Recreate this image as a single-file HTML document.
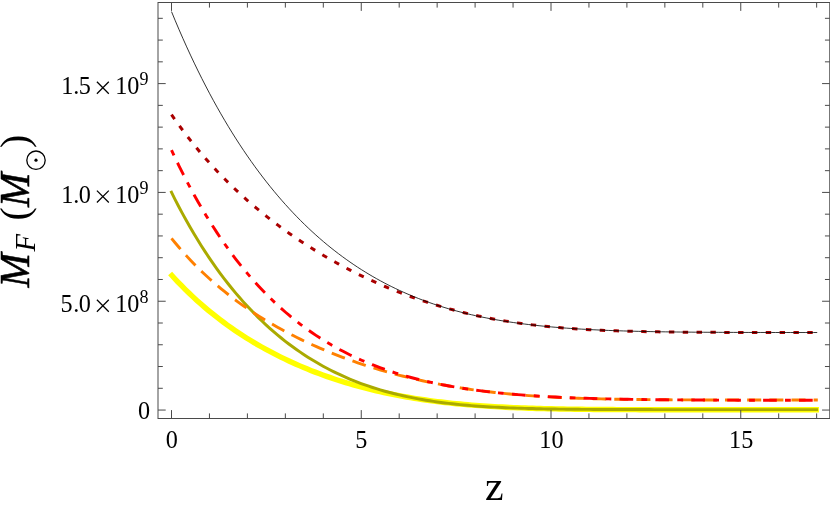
<!DOCTYPE html>
<html><head><meta charset="utf-8"><title>plot</title>
<style>
html,body{margin:0;padding:0;background:#fff;}
body{width:830px;height:509px;overflow:hidden;font-family:"Liberation Serif",serif;}
svg{display:block;will-change:transform;}
text{font-family:"Liberation Serif",serif;fill:#000;}
</style></head><body>
<svg width="830" height="509" viewBox="0 0 830 509">
<rect width="830" height="509" fill="#fff"/>
<g fill="none" stroke-linecap="butt" stroke-linejoin="round">
<path d="M170.13,273.50 L173.95,277.70 L177.77,281.78 L181.58,285.73 L185.40,289.56 L189.22,293.28 L193.03,296.89 L196.85,300.39 L200.67,303.79 L204.48,307.10 L208.30,310.31 L212.11,313.43 L215.93,316.46 L219.75,319.40 L223.56,322.27 L227.38,325.06 L231.20,327.77 L235.01,330.41 L238.83,332.98 L242.65,335.47 L246.46,337.91 L250.28,340.27 L254.10,342.58 L257.91,344.82 L261.73,347.00 L265.54,349.13 L269.36,351.20 L273.18,353.21 L276.99,355.17 L280.81,357.08 L284.63,358.94 L288.44,360.75 L292.26,362.51 L296.08,364.23 L299.89,365.89 L303.71,367.51 L307.53,369.09 L311.34,370.63 L315.16,372.12 L318.97,373.57 L322.79,374.97 L326.61,376.34 L330.42,377.67 L334.24,378.96 L338.06,380.21 L341.87,381.43 L345.69,382.61 L349.51,383.75 L353.32,384.86 L357.14,385.93 L360.96,386.97 L364.77,387.98 L368.59,388.95 L372.40,389.89 L376.22,390.80 L380.04,391.68 L383.85,392.53 L387.67,393.35 L391.49,394.14 L395.30,394.90 L399.12,395.63 L402.94,396.34 L406.75,397.02 L410.57,397.67 L414.39,398.30 L418.20,398.90 L422.02,399.48 L425.83,400.04 L429.65,400.57 L433.47,401.08 L437.28,401.57 L441.10,402.03 L444.92,402.48 L448.73,402.90 L452.55,403.31 L456.37,403.70 L460.18,404.06 L464.00,404.41 L467.82,404.75 L471.63,405.07 L475.45,405.37 L479.26,405.65 L483.08,405.92 L486.90,406.18 L490.71,406.42 L494.53,406.65 L498.35,406.86 L502.16,407.07 L505.98,407.26 L509.80,407.44 L513.61,407.61 L517.43,407.77 L521.25,407.92 L525.06,408.06 L528.88,408.19 L532.69,408.31 L536.51,408.43 L540.33,408.53 L544.14,408.63 L547.96,408.73 L551.78,408.81 L555.59,408.89 L559.41,408.97 L563.23,409.04 L567.04,409.10 L570.86,409.16 L574.68,409.22 L578.49,409.27 L582.31,409.31 L586.12,409.36 L589.94,409.39 L593.76,409.43 L597.57,409.46 L601.39,409.49 L605.21,409.52 L609.02,409.55 L612.84,409.57 L616.66,409.59 L620.47,409.61 L624.29,409.63 L628.11,409.64 L631.92,409.66 L635.74,409.67 L639.55,409.68 L643.37,409.69 L647.19,409.70 L651.00,409.71 L654.82,409.72 L658.64,409.73 L662.45,409.73 L666.27,409.74 L670.09,409.74 L673.90,409.75 L677.72,409.75 L681.54,409.75 L685.35,409.76 L689.17,409.76 L692.98,409.76 L696.80,409.76 L700.62,409.77 L704.43,409.77 L708.25,409.77 L712.07,409.77 L715.88,409.77 L719.70,409.77 L723.52,409.77 L727.33,409.77 L731.15,409.78 L734.97,409.78 L738.78,409.78 L742.60,409.78 L746.41,409.78 L750.23,409.78 L754.05,409.78 L757.86,409.78 L761.68,409.78 L765.50,409.78 L769.31,409.78 L773.13,409.78 L776.95,409.78 L780.76,409.78 L784.58,409.78 L788.40,409.78 L792.21,409.78 L796.03,409.78 L799.84,409.78 L803.66,409.78 L807.48,409.78 L811.29,409.78 L815.11,409.78 L818.93,409.78" stroke="#ffff00" stroke-width="5.4"/>
<path d="M170.82,190.92 L174.62,198.56 L178.43,205.96 L182.24,213.12 L186.04,220.06 L189.85,226.78 L193.66,233.29 L197.46,239.59 L201.27,245.70 L205.08,251.62 L208.89,257.35 L212.69,262.91 L216.50,268.29 L220.31,273.51 L224.11,278.57 L227.92,283.47 L231.73,288.22 L235.53,292.83 L239.34,297.29 L243.15,301.61 L246.95,305.80 L250.76,309.86 L254.57,313.78 L258.37,317.59 L262.18,321.28 L265.99,324.84 L269.79,328.30 L273.60,331.64 L277.41,334.88 L281.22,338.00 L285.02,341.03 L288.83,343.96 L292.64,346.79 L296.44,349.52 L300.25,352.16 L304.06,354.71 L307.86,357.17 L311.67,359.55 L315.48,361.84 L319.28,364.05 L323.09,366.18 L326.90,368.23 L330.70,370.21 L334.51,372.11 L338.32,373.94 L342.12,375.71 L345.93,377.40 L349.74,379.03 L353.54,380.59 L357.35,382.09 L361.16,383.52 L364.97,384.90 L368.77,386.22 L372.58,387.49 L376.39,388.70 L380.19,389.86 L384.00,390.96 L387.81,392.02 L391.61,393.03 L395.42,393.99 L399.23,394.91 L403.03,395.78 L406.84,396.61 L410.65,397.40 L414.45,398.16 L418.26,398.87 L422.07,399.55 L425.87,400.19 L429.68,400.80 L433.49,401.38 L437.30,401.92 L441.10,402.44 L444.91,402.92 L448.72,403.38 L452.52,403.81 L456.33,404.22 L460.14,404.60 L463.94,404.96 L467.75,405.30 L471.56,405.62 L475.36,405.92 L479.17,406.20 L482.98,406.46 L486.78,406.70 L490.59,406.93 L494.40,407.14 L498.20,407.34 L502.01,407.53 L505.82,407.70 L509.62,407.86 L513.43,408.00 L517.24,408.14 L521.05,408.27 L524.85,408.39 L528.66,408.49 L532.47,408.59 L536.27,408.69 L540.08,408.77 L543.89,408.85 L547.69,408.92 L551.50,408.99 L555.31,409.05 L559.11,409.10 L562.92,409.15 L566.73,409.20 L570.53,409.24 L574.34,409.28 L578.15,409.32 L581.95,409.35 L585.76,409.38 L589.57,409.40 L593.38,409.43 L597.18,409.45 L600.99,409.47 L604.80,409.48 L608.60,409.50 L612.41,409.51 L616.22,409.53 L620.02,409.54 L623.83,409.55 L627.64,409.56 L631.44,409.57 L635.25,409.57 L639.06,409.58 L642.86,409.58 L646.67,409.59 L650.48,409.59 L654.28,409.60 L658.09,409.60 L661.90,409.60 L665.70,409.61 L669.51,409.61 L673.32,409.61 L677.13,409.61 L680.93,409.62 L684.74,409.62 L688.55,409.62 L692.35,409.62 L696.16,409.62 L699.97,409.62 L703.77,409.62 L707.58,409.62 L711.39,409.62 L715.19,409.62 L719.00,409.62 L722.81,409.62 L726.61,409.62 L730.42,409.62 L734.23,409.62 L738.03,409.62 L741.84,409.63 L745.65,409.63 L749.46,409.63 L753.26,409.63 L757.07,409.63 L760.88,409.63 L764.68,409.63 L768.49,409.63 L772.30,409.63 L776.10,409.63 L779.91,409.63 L783.72,409.63 L787.52,409.63 L791.33,409.63 L795.14,409.63 L798.94,409.63 L802.75,409.63 L806.56,409.63 L810.36,409.63 L814.17,409.63 L817.98,409.63" stroke="#aaaa00" stroke-width="2.95"/>
<path d="M171.50,238.36 L175.30,243.02 L179.10,247.53 L182.91,251.89 L186.71,256.11 L190.51,260.19 L194.31,264.14 L198.11,267.97 L201.91,271.68 L205.72,275.28 L209.52,278.77 L213.32,282.15 L217.12,285.44 L220.92,288.63 L224.72,291.74 L228.53,294.75 L232.33,297.69 L236.13,300.54 L239.93,303.32 L243.73,306.02 L247.53,308.66 L251.34,311.22 L255.14,313.72 L258.94,316.16 L262.74,318.53 L266.54,320.85 L270.34,323.11 L274.15,325.32 L277.95,327.47 L281.75,329.57 L285.55,331.62 L289.35,333.63 L293.15,335.58 L296.96,337.49 L300.76,339.36 L304.56,341.19 L308.36,342.97 L312.16,344.71 L315.96,346.41 L319.77,348.08 L323.57,349.70 L327.37,351.29 L331.17,352.84 L334.97,354.36 L338.77,355.84 L342.58,357.29 L346.38,358.71 L350.18,360.09 L353.98,361.44 L357.78,362.76 L361.58,364.05 L365.39,365.30 L369.19,366.53 L372.99,367.72 L376.79,368.89 L380.59,370.03 L384.40,371.14 L388.20,372.22 L392.00,373.27 L395.80,374.30 L399.60,375.30 L403.40,376.27 L407.21,377.21 L411.01,378.13 L414.81,379.03 L418.61,379.90 L422.41,380.74 L426.21,381.56 L430.02,382.35 L433.82,383.12 L437.62,383.87 L441.42,384.59 L445.22,385.29 L449.02,385.97 L452.83,386.62 L456.63,387.25 L460.43,387.86 L464.23,388.45 L468.03,389.02 L471.83,389.57 L475.64,390.10 L479.44,390.60 L483.24,391.09 L487.04,391.56 L490.84,392.01 L494.64,392.45 L498.45,392.86 L502.25,393.26 L506.05,393.64 L509.85,394.00 L513.65,394.35 L517.45,394.68 L521.26,395.00 L525.06,395.30 L528.86,395.59 L532.66,395.86 L536.46,396.12 L540.26,396.37 L544.07,396.61 L547.87,396.83 L551.67,397.04 L555.47,397.24 L559.27,397.43 L563.07,397.61 L566.88,397.77 L570.68,397.93 L574.48,398.08 L578.28,398.22 L582.08,398.35 L585.88,398.48 L589.69,398.59 L593.49,398.70 L597.29,398.80 L601.09,398.90 L604.89,398.99 L608.70,399.07 L612.50,399.15 L616.30,399.22 L620.10,399.29 L623.90,399.35 L627.70,399.41 L631.51,399.46 L635.31,399.51 L639.11,399.55 L642.91,399.59 L646.71,399.63 L650.51,399.67 L654.32,399.70 L658.12,399.73 L661.92,399.76 L665.72,399.78 L669.52,399.81 L673.32,399.83 L677.13,399.85 L680.93,399.86 L684.73,399.88 L688.53,399.89 L692.33,399.91 L696.13,399.92 L699.94,399.93 L703.74,399.94 L707.54,399.95 L711.34,399.95 L715.14,399.96 L718.94,399.97 L722.75,399.97 L726.55,399.98 L730.35,399.98 L734.15,399.99 L737.95,399.99 L741.75,399.99 L745.56,400.00 L749.36,400.00 L753.16,400.00 L756.96,400.00 L760.76,400.01 L764.56,400.01 L768.37,400.01 L772.17,400.01 L775.97,400.01 L779.77,400.01 L783.57,400.01 L787.37,400.01 L791.18,400.01 L794.98,400.01 L798.78,400.01 L802.58,400.01 L806.38,400.02 L810.19,400.02 L813.99,400.02 L817.79,400.02" stroke="#ff8000" stroke-width="2.9" stroke-dasharray="14.05 8.1"/>
<path d="M171.50,150.11 L175.30,158.20 L179.10,166.04 L182.91,173.66 L186.71,181.06 L190.51,188.24 L194.31,195.20 L198.11,201.97 L201.91,208.53 L205.72,214.90 L209.52,221.09 L213.32,227.09 L217.12,232.91 L220.92,238.56 L224.72,244.04 L228.53,249.36 L232.33,254.52 L236.13,259.52 L239.93,264.37 L243.73,269.08 L247.53,273.64 L251.34,278.07 L255.14,282.36 L258.94,286.52 L262.74,290.55 L266.54,294.45 L270.34,298.24 L274.15,301.91 L277.95,305.46 L281.75,308.90 L285.55,312.23 L289.35,315.46 L293.15,318.59 L296.96,321.62 L300.76,324.55 L304.56,327.38 L308.36,330.12 L312.16,332.78 L315.96,335.35 L319.77,337.83 L323.57,340.23 L327.37,342.55 L331.17,344.80 L334.97,346.97 L338.77,349.06 L342.58,351.09 L346.38,353.05 L350.18,354.94 L353.98,356.76 L357.78,358.52 L361.58,360.22 L365.39,361.86 L369.19,363.44 L372.99,364.97 L376.79,366.44 L380.59,367.86 L384.40,369.23 L388.20,370.55 L392.00,371.82 L395.80,373.04 L399.60,374.22 L403.40,375.35 L407.21,376.44 L411.01,377.49 L414.81,378.50 L418.61,379.47 L422.41,380.41 L426.21,381.30 L430.02,382.17 L433.82,382.99 L437.62,383.79 L441.42,384.55 L445.22,385.29 L449.02,385.99 L452.83,386.67 L456.63,387.31 L460.43,387.93 L464.23,388.53 L468.03,389.10 L471.83,389.64 L475.64,390.16 L479.44,390.66 L483.24,391.14 L487.04,391.60 L490.84,392.04 L494.64,392.46 L498.45,392.86 L502.25,393.24 L506.05,393.60 L509.85,393.95 L513.65,394.28 L517.45,394.60 L521.26,394.90 L525.06,395.19 L528.86,395.46 L532.66,395.73 L536.46,395.97 L540.26,396.21 L544.07,396.44 L547.87,396.65 L551.67,396.85 L555.47,397.05 L559.27,397.23 L563.07,397.41 L566.88,397.57 L570.68,397.73 L574.48,397.88 L578.28,398.02 L582.08,398.15 L585.88,398.28 L589.69,398.40 L593.49,398.52 L597.29,398.62 L601.09,398.73 L604.89,398.82 L608.70,398.91 L612.50,399.00 L616.30,399.08 L620.10,399.16 L623.90,399.23 L627.70,399.30 L631.51,399.36 L635.31,399.42 L639.11,399.48 L642.91,399.53 L646.71,399.58 L650.51,399.63 L654.32,399.67 L658.12,399.72 L661.92,399.76 L665.72,399.79 L669.52,399.83 L673.32,399.86 L677.13,399.89 L680.93,399.92 L684.73,399.94 L688.53,399.97 L692.33,399.99 L696.13,400.01 L699.94,400.03 L703.74,400.05 L707.54,400.07 L711.34,400.09 L715.14,400.10 L718.94,400.12 L722.75,400.13 L726.55,400.14 L730.35,400.16 L734.15,400.17 L737.95,400.18 L741.75,400.19 L745.56,400.19 L749.36,400.20 L753.16,400.21 L756.96,400.22 L760.76,400.22 L764.56,400.23 L768.37,400.23 L772.17,400.24 L775.97,400.24 L779.77,400.25 L783.57,400.25 L787.37,400.26 L791.18,400.26 L794.98,400.26 L798.78,400.27 L802.58,400.27 L806.38,400.27 L810.19,400.27 L813.99,400.27 L817.79,400.28" stroke="#ff0000" stroke-width="2.9" stroke-dasharray="5.8 8.2 13.7 8.2"/>
<path d="M171.50,114.60 L175.30,120.06 L179.10,125.37 L182.91,130.53 L186.71,135.55 L190.51,140.43 L194.31,145.18 L198.11,149.80 L201.91,154.31 L205.72,158.69 L209.52,162.97 L213.32,167.14 L217.12,171.21 L220.92,175.18 L224.72,179.06 L228.53,182.84 L232.33,186.54 L236.13,190.16 L239.93,193.69 L243.73,197.15 L247.53,200.53 L251.34,203.84 L255.14,207.07 L258.94,210.24 L262.74,213.35 L266.54,216.39 L270.34,219.37 L274.15,222.29 L277.95,225.15 L281.75,227.96 L285.55,230.71 L289.35,233.41 L293.15,236.05 L296.96,238.64 L300.76,241.19 L304.56,243.69 L308.36,246.13 L312.16,248.54 L315.96,250.89 L319.77,253.20 L323.57,255.47 L327.37,257.69 L331.17,259.88 L334.97,262.02 L338.77,264.11 L342.58,266.17 L346.38,268.19 L350.18,270.17 L353.98,272.11 L357.78,274.01 L361.58,275.87 L365.39,277.69 L369.19,279.48 L372.99,281.23 L376.79,282.94 L380.59,284.61 L384.40,286.25 L388.20,287.85 L392.00,289.42 L395.80,290.95 L399.60,292.45 L403.40,293.91 L407.21,295.33 L411.01,296.72 L414.81,298.08 L418.61,299.40 L422.41,300.69 L426.21,301.95 L430.02,303.17 L433.82,304.36 L437.62,305.51 L441.42,306.64 L445.22,307.73 L449.02,308.79 L452.83,309.82 L456.63,310.81 L460.43,311.78 L464.23,312.72 L468.03,313.62 L471.83,314.50 L475.64,315.35 L479.44,316.17 L483.24,316.96 L487.04,317.72 L490.84,318.45 L494.64,319.16 L498.45,319.84 L502.25,320.50 L506.05,321.13 L509.85,321.74 L513.65,322.32 L517.45,322.87 L521.26,323.41 L525.06,323.92 L528.86,324.41 L532.66,324.87 L536.46,325.32 L540.26,325.75 L544.07,326.15 L547.87,326.54 L551.67,326.91 L555.47,327.26 L559.27,327.59 L563.07,327.90 L566.88,328.20 L570.68,328.49 L574.48,328.76 L578.28,329.01 L582.08,329.25 L585.88,329.47 L589.69,329.69 L593.49,329.89 L597.29,330.08 L601.09,330.25 L604.89,330.42 L608.70,330.58 L612.50,330.72 L616.30,330.86 L620.10,330.99 L623.90,331.11 L627.70,331.22 L631.51,331.32 L635.31,331.42 L639.11,331.51 L642.91,331.59 L646.71,331.67 L650.51,331.74 L654.32,331.80 L658.12,331.87 L661.92,331.92 L665.72,331.97 L669.52,332.02 L673.32,332.07 L677.13,332.11 L680.93,332.14 L684.73,332.18 L688.53,332.21 L692.33,332.24 L696.13,332.26 L699.94,332.29 L703.74,332.31 L707.54,332.33 L711.34,332.35 L715.14,332.36 L718.94,332.38 L722.75,332.39 L726.55,332.40 L730.35,332.41 L734.15,332.42 L737.95,332.43 L741.75,332.44 L745.56,332.44 L749.36,332.45 L753.16,332.46 L756.96,332.46 L760.76,332.47 L764.56,332.47 L768.37,332.47 L772.17,332.48 L775.97,332.48 L779.77,332.48 L783.57,332.48 L787.37,332.49 L791.18,332.49 L794.98,332.49 L798.78,332.49 L802.58,332.49 L806.38,332.49 L810.19,332.49 L813.99,332.49 L817.79,332.50" stroke="#aa0000" stroke-width="3.0" stroke-dasharray="5.4 8.44"/>
<path d="M171.50,11.62 L175.30,20.79 L179.10,29.72 L182.90,38.41 L186.69,46.88 L190.49,55.12 L194.29,63.15 L198.09,70.98 L201.89,78.60 L205.69,86.02 L209.48,93.25 L213.28,100.30 L217.08,107.16 L220.88,113.85 L224.68,120.36 L228.48,126.71 L232.27,132.90 L236.07,138.93 L239.87,144.80 L243.67,150.52 L247.47,156.10 L251.27,161.53 L255.06,166.83 L258.86,171.98 L262.66,177.01 L266.46,181.90 L270.26,186.67 L274.06,191.31 L277.85,195.84 L281.65,200.24 L285.45,204.53 L289.25,208.71 L293.05,212.78 L296.85,216.73 L300.64,220.59 L304.44,224.34 L308.24,227.99 L312.04,231.54 L315.84,234.99 L319.64,238.35 L323.43,241.62 L327.23,244.80 L331.03,247.89 L334.83,250.89 L338.63,253.81 L342.43,256.64 L346.22,259.40 L350.02,262.07 L353.82,264.67 L357.62,267.19 L361.42,269.64 L365.22,272.01 L369.01,274.31 L372.81,276.55 L376.61,278.71 L380.41,280.81 L384.21,282.85 L388.01,284.82 L391.80,286.73 L395.60,288.57 L399.40,290.36 L403.20,292.09 L407.00,293.77 L410.80,295.38 L414.59,296.95 L418.39,298.46 L422.19,299.92 L425.99,301.33 L429.79,302.69 L433.59,304.00 L437.38,305.27 L441.18,306.49 L444.98,307.67 L448.78,308.80 L452.58,309.89 L456.38,310.94 L460.17,311.95 L463.97,312.93 L467.77,313.86 L471.57,314.76 L475.37,315.62 L479.17,316.45 L482.96,317.25 L486.76,318.01 L490.56,318.74 L494.36,319.44 L498.16,320.11 L501.96,320.76 L505.75,321.37 L509.55,321.96 L513.35,322.52 L517.15,323.06 L520.95,323.57 L524.75,324.06 L528.54,324.53 L532.34,324.98 L536.14,325.40 L539.94,325.81 L543.74,326.19 L547.54,326.56 L551.33,326.91 L555.13,327.24 L558.93,327.55 L562.73,327.85 L566.53,328.14 L570.33,328.40 L574.12,328.66 L577.92,328.90 L581.72,329.13 L585.52,329.34 L589.32,329.55 L593.12,329.74 L596.92,329.92 L600.71,330.10 L604.51,330.26 L608.31,330.41 L612.11,330.55 L615.91,330.69 L619.71,330.82 L623.50,330.94 L627.30,331.05 L631.10,331.15 L634.90,331.25 L638.70,331.35 L642.50,331.43 L646.29,331.51 L650.09,331.59 L653.89,331.66 L657.69,331.73 L661.49,331.79 L665.29,331.85 L669.08,331.90 L672.88,331.95 L676.68,332.00 L680.48,332.04 L684.28,332.08 L688.08,332.12 L691.87,332.15 L695.67,332.19 L699.47,332.22 L703.27,332.24 L707.07,332.27 L710.87,332.29 L714.66,332.31 L718.46,332.33 L722.26,332.35 L726.06,332.37 L729.86,332.39 L733.66,332.40 L737.45,332.41 L741.25,332.43 L745.05,332.44 L748.85,332.45 L752.65,332.46 L756.45,332.46 L760.24,332.47 L764.04,332.48 L767.84,332.49 L771.64,332.49 L775.44,332.50 L779.24,332.50 L783.03,332.51 L786.83,332.51 L790.63,332.52 L794.43,332.52 L798.23,332.52 L802.03,332.52 L805.82,332.53 L809.62,332.53 L813.42,332.53 L817.22,332.53" stroke="#000" stroke-width="0.8"/>
</g>
<g stroke="#4a4a4a" stroke-width="1" fill="none">
<rect x="158.0" y="2.5" width="671.75" height="416.0"/>
<line x1="171.50" y1="418.5" x2="171.50" y2="410.1"/>
<line x1="171.50" y1="2.5" x2="171.50" y2="10.9"/>
<line x1="209.45" y1="418.5" x2="209.45" y2="413.4"/>
<line x1="209.45" y1="2.5" x2="209.45" y2="7.6"/>
<line x1="247.40" y1="418.5" x2="247.40" y2="413.4"/>
<line x1="247.40" y1="2.5" x2="247.40" y2="7.6"/>
<line x1="285.35" y1="418.5" x2="285.35" y2="413.4"/>
<line x1="285.35" y1="2.5" x2="285.35" y2="7.6"/>
<line x1="323.30" y1="418.5" x2="323.30" y2="413.4"/>
<line x1="323.30" y1="2.5" x2="323.30" y2="7.6"/>
<line x1="361.25" y1="418.5" x2="361.25" y2="410.1"/>
<line x1="361.25" y1="2.5" x2="361.25" y2="10.9"/>
<line x1="399.20" y1="418.5" x2="399.20" y2="413.4"/>
<line x1="399.20" y1="2.5" x2="399.20" y2="7.6"/>
<line x1="437.15" y1="418.5" x2="437.15" y2="413.4"/>
<line x1="437.15" y1="2.5" x2="437.15" y2="7.6"/>
<line x1="475.10" y1="418.5" x2="475.10" y2="413.4"/>
<line x1="475.10" y1="2.5" x2="475.10" y2="7.6"/>
<line x1="513.05" y1="418.5" x2="513.05" y2="413.4"/>
<line x1="513.05" y1="2.5" x2="513.05" y2="7.6"/>
<line x1="551.00" y1="418.5" x2="551.00" y2="410.1"/>
<line x1="551.00" y1="2.5" x2="551.00" y2="10.9"/>
<line x1="588.95" y1="418.5" x2="588.95" y2="413.4"/>
<line x1="588.95" y1="2.5" x2="588.95" y2="7.6"/>
<line x1="626.90" y1="418.5" x2="626.90" y2="413.4"/>
<line x1="626.90" y1="2.5" x2="626.90" y2="7.6"/>
<line x1="664.85" y1="418.5" x2="664.85" y2="413.4"/>
<line x1="664.85" y1="2.5" x2="664.85" y2="7.6"/>
<line x1="702.80" y1="418.5" x2="702.80" y2="413.4"/>
<line x1="702.80" y1="2.5" x2="702.80" y2="7.6"/>
<line x1="740.75" y1="418.5" x2="740.75" y2="410.1"/>
<line x1="740.75" y1="2.5" x2="740.75" y2="10.9"/>
<line x1="778.70" y1="418.5" x2="778.70" y2="413.4"/>
<line x1="778.70" y1="2.5" x2="778.70" y2="7.6"/>
<line x1="816.65" y1="418.5" x2="816.65" y2="413.4"/>
<line x1="816.65" y1="2.5" x2="816.65" y2="7.6"/>
<line x1="158.0" y1="410.05" x2="165.7" y2="410.05"/>
<line x1="829.75" y1="410.05" x2="822.05" y2="410.05"/>
<line x1="158.0" y1="388.29" x2="162.8" y2="388.29"/>
<line x1="829.75" y1="388.29" x2="824.95" y2="388.29"/>
<line x1="158.0" y1="366.52" x2="162.8" y2="366.52"/>
<line x1="829.75" y1="366.52" x2="824.95" y2="366.52"/>
<line x1="158.0" y1="344.76" x2="162.8" y2="344.76"/>
<line x1="829.75" y1="344.76" x2="824.95" y2="344.76"/>
<line x1="158.0" y1="323.00" x2="162.8" y2="323.00"/>
<line x1="829.75" y1="323.00" x2="824.95" y2="323.00"/>
<line x1="158.0" y1="301.24" x2="165.7" y2="301.24"/>
<line x1="829.75" y1="301.24" x2="822.05" y2="301.24"/>
<line x1="158.0" y1="279.47" x2="162.8" y2="279.47"/>
<line x1="829.75" y1="279.47" x2="824.95" y2="279.47"/>
<line x1="158.0" y1="257.71" x2="162.8" y2="257.71"/>
<line x1="829.75" y1="257.71" x2="824.95" y2="257.71"/>
<line x1="158.0" y1="235.95" x2="162.8" y2="235.95"/>
<line x1="829.75" y1="235.95" x2="824.95" y2="235.95"/>
<line x1="158.0" y1="214.18" x2="162.8" y2="214.18"/>
<line x1="829.75" y1="214.18" x2="824.95" y2="214.18"/>
<line x1="158.0" y1="192.42" x2="165.7" y2="192.42"/>
<line x1="829.75" y1="192.42" x2="822.05" y2="192.42"/>
<line x1="158.0" y1="170.66" x2="162.8" y2="170.66"/>
<line x1="829.75" y1="170.66" x2="824.95" y2="170.66"/>
<line x1="158.0" y1="148.89" x2="162.8" y2="148.89"/>
<line x1="829.75" y1="148.89" x2="824.95" y2="148.89"/>
<line x1="158.0" y1="127.13" x2="162.8" y2="127.13"/>
<line x1="829.75" y1="127.13" x2="824.95" y2="127.13"/>
<line x1="158.0" y1="105.37" x2="162.8" y2="105.37"/>
<line x1="829.75" y1="105.37" x2="824.95" y2="105.37"/>
<line x1="158.0" y1="83.60" x2="165.7" y2="83.60"/>
<line x1="829.75" y1="83.60" x2="822.05" y2="83.60"/>
<line x1="158.0" y1="61.84" x2="162.8" y2="61.84"/>
<line x1="829.75" y1="61.84" x2="824.95" y2="61.84"/>
<line x1="158.0" y1="40.08" x2="162.8" y2="40.08"/>
<line x1="829.75" y1="40.08" x2="824.95" y2="40.08"/>
<line x1="158.0" y1="18.32" x2="162.8" y2="18.32"/>
<line x1="829.75" y1="18.32" x2="824.95" y2="18.32"/>
</g>
<g font-size="24.2">
<text y="94.2"><tspan x="61.3">1</tspan><tspan x="73.2">.</tspan><tspan x="78.7">5</tspan><tspan x="115.2">10</tspan><tspan x="139.6" dy="-9.3" font-size="18">9</tspan></text><path d="M96.9,81.8 l11.9,11.9 m0,-11.9 l-11.9,11.9" stroke="#000" stroke-width="1.25" fill="none"/>
<text y="203.0"><tspan x="61.3">1</tspan><tspan x="73.2">.</tspan><tspan x="78.7">0</tspan><tspan x="115.2">10</tspan><tspan x="139.6" dy="-9.3" font-size="18">9</tspan></text><path d="M96.9,190.6 l11.9,11.9 m0,-11.9 l-11.9,11.9" stroke="#000" stroke-width="1.25" fill="none"/>
<text y="312.2"><tspan x="60.4">5</tspan><tspan x="73.2">.</tspan><tspan x="78.7">0</tspan><tspan x="115.2">10</tspan><tspan x="139.6" dy="-9.3" font-size="18">8</tspan></text><path d="M96.9,299.8 l11.9,11.9 m0,-11.9 l-11.9,11.9" stroke="#000" stroke-width="1.25" fill="none"/>
<text x="138" y="418.5">0</text>
<text x="171.9" y="447.6" text-anchor="middle">0</text>
<text x="361.2" y="447.6" text-anchor="middle">5</text>
<text x="551.4" y="447.6" text-anchor="middle">10</text>
<text x="741.2" y="447.6" text-anchor="middle">15</text>
</g>
<text x="494.3" y="499.8" font-size="42" text-anchor="middle">z</text>
<g transform="rotate(-90)" font-size="42">
<text x="-287.6" y="29.2" font-size="41.2" font-style="italic" stroke="#000" stroke-width="0.55">M</text>
<text x="-251.5" y="35.2" font-size="28.6" font-style="italic">F</text>
<text x="-220.5" y="27.8" font-size="40">(</text>
<text x="-207.0" y="29.2" font-size="41.2" font-style="italic" stroke="#000" stroke-width="0.55">M</text>
<circle cx="-160.2" cy="36" r="9.2" fill="none" stroke="#000" stroke-width="1.3"/>
<circle cx="-160.2" cy="36" r="1.6" fill="#000"/>
<text x="-148" y="27.8" font-size="40">)</text>
</g>
</svg>
</body></html>
